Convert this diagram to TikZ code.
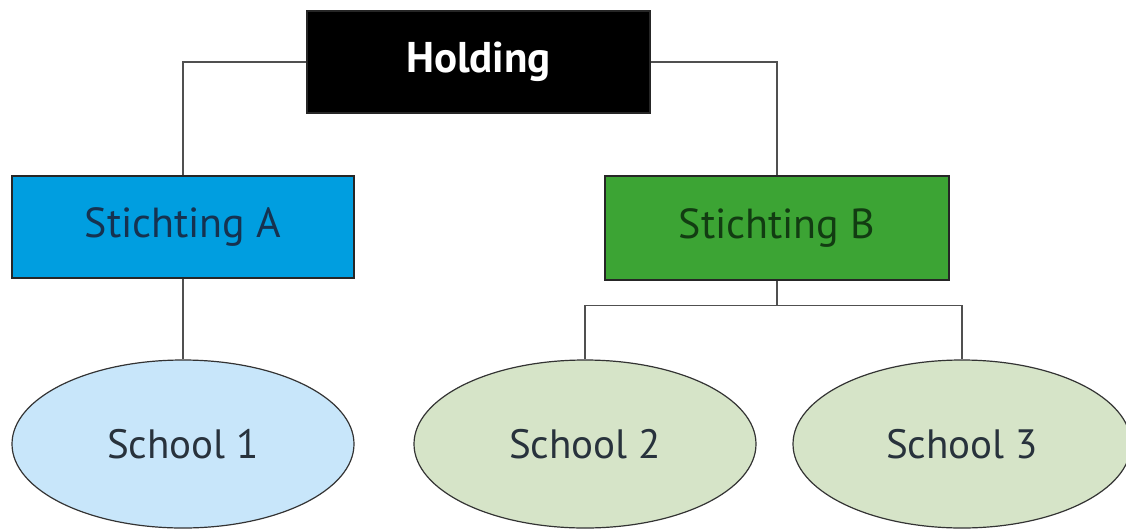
\documentclass[tikz,border=0pt]{standalone}
\usepackage{fontspec}
\setmainfont{PT Sans}
\usetikzlibrary{shapes.geometric,calc}
\definecolor{blueA}{RGB}{0,158,224}
\definecolor{greenB}{RGB}{60,164,52}
\definecolor{school1}{RGB}{200,230,250}
\definecolor{school23}{RGB}{214,228,200}
\definecolor{navytext}{RGB}{22,50,80}
\definecolor{greentext}{RGB}{18,60,18}
\definecolor{schooltext}{RGB}{40,50,60}
\definecolor{linegrey}{RGB}{80,80,80}
\tikzset{
  box/.style={rectangle, draw=black!85, line width=1.3pt, inner sep=0pt,
    minimum width=342pt, minimum height=102pt, font=\fontsize{42}{48}\selectfont},
  oval/.style={ellipse, draw=black!80, line width=1.2pt, inner sep=0pt,
    minimum width=342pt, minimum height=168pt, text=schooltext, font=\fontsize{41}{48}\selectfont},
  conn/.style={draw=linegrey, line width=1.3pt}
}
\begin{document}
\begin{tikzpicture}[x=1pt,y=-1pt]
\useasboundingbox (0,0) rectangle (1126,530);
\node[box, fill=black, text=white, minimum width=343pt, font=\fontsize{43}{48}\selectfont\bfseries] (hold) at (478.5,62) {Holding};
\node[box, fill=blueA, text=navytext] (sa) at (183,227) {Stichting A};
\node[box, fill=greenB, text=greentext, minimum width=344pt, minimum height=104pt] (sb) at (777,228) {Stichting B};
\node[oval, fill=school1] (s1) at (183,444) {School 1};
\node[oval, fill=school23] (s2) at (585,444) {School 2};
\node[oval, fill=school23, minimum width=338pt] (s3) at (962,444) {School 3};
\coordinate (jb) at ($(sb.south)+(0,25)$);
\draw[conn] (hold.west) -| (sa.north);
\draw[conn] (hold.east) -| (sb.north);
\draw[conn] (sa.south) -- (s1.north);
\draw[conn] (sb.south) -- (jb);
\draw[conn] (s2.north) |- (jb) -| (s3.north);
\end{tikzpicture}
\end{document}
